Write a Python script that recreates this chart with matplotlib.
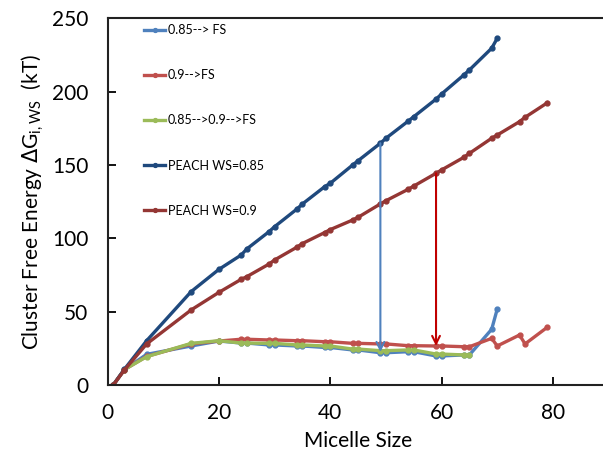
import matplotlib
matplotlib.use('Agg')
import matplotlib.pyplot as plt

plt.rcParams['font.family'] = ['Lato', 'DejaVu Sans']

# PEACH reference curves
peach_x = [1, 3, 7, 15, 20, 24, 25, 29, 30, 34, 35, 39, 40, 44, 45, 49, 50,
           54, 55, 59, 60, 64, 65, 69, 70]
peach085 = [0, 10.7, 30.2, 63.7, 78.9, 88.7, 92.8, 104.6, 108, 120, 123.5,
            135.3, 137.6, 150, 153, 164.9, 168.3, 180, 183, 195, 198.5,
            211.5, 214.9, 229.7, 236.5]

peach09_x = peach_x + [74, 75, 79]
peach09 = [0, 10.2, 28, 51.2, 63.2, 72.1, 73.9, 82.5, 85.3, 94, 96.5, 104,
           106, 112.5, 114.4, 123.5, 125.7, 133.5, 135.7, 144.4, 146.7,
           155.3, 158, 168.3, 170.5, 179.6, 182.6, 192.5]

# free surfactant runs
fs085_x = peach_x
fs085 = [0, 10.5, 20.9, 26.6, 30, 28.6, 28.6, 27.3, 27.3, 26.6, 26.6, 25.6,
         25.6, 23.9, 23.9, 22, 22, 22.7, 22.7, 19.8, 19.8, 20.5, 20.5, 38, 51.8]

fs09_x = peach09_x
fs09 = [0, 10.5, 19.5, 28, 30, 31.2, 31.2, 30.7, 30.7, 30.2, 30.2, 29.5, 29.5,
        28.4, 28.4, 28, 28, 26.8, 26.8, 26.6, 26.6, 26.1, 26.1, 31.8, 26.6,
        34.1, 28, 39.4]

fs_mix_x = peach_x[:23]
fs_mix = [0, 10.5, 19.3, 28.4, 30.2, 28.6, 28.6, 28.4, 28.4, 27.3, 27.3,
          26.6, 26.6, 24.5, 24.5, 23.4, 23.4, 23.9, 23.9, 21.1, 21.1, 20.5, 20.5]

# arrows: jump from PEACH curve down to FS curve
arrow_x = [49, 59]
arrow_top = [164.9, 144.4]
arrow_bottom = [22.5, 26.6]

fig = plt.figure(figsize=(6.03, 4.61), dpi=100)
ax = fig.add_axes([0.1786, 0.1649, 0.8306, 0.795])

lw = 2.4
ms = 3.5
ax.plot(fs085_x, fs085, '-o', color='#4F81BD', lw=lw, ms=ms, label='0.85--> FS')
ax.plot(fs09_x, fs09, '-o', color='#C0504D', lw=lw, ms=ms, label='0.9-->FS')
ax.plot(fs_mix_x, fs_mix, '-o', color='#9BBB59', lw=lw, ms=ms,
        label='0.85-->0.9-->FS')
ax.plot(peach_x, peach085, '-o', color='#1F497D', lw=lw, ms=ms,
        label='PEACH WS=0.85')
ax.plot(peach09_x, peach09, '-o', color='#943634', lw=lw, ms=ms,
        label='PEACH WS=0.9')

for x, y0, y1, c in zip(arrow_x, arrow_top, arrow_bottom, ['#4F81BD', '#C00000']):
    ax.annotate('', xy=(x, y1), xytext=(x, y0),
                arrowprops=dict(arrowstyle='->', color=c, lw=1.5,
                                mutation_scale=14, shrinkA=0, shrinkB=0))

ax.set_xlim(0, 90)
ax.set_ylim(0, 250)
ax.set_xticks([0, 20, 40, 60, 80])
ax.set_yticks([0, 50, 100, 150, 200, 250])
ax.tick_params(direction='in', length=6, width=1.3, labelsize=15)
ax.tick_params(axis='x', pad=13)
ax.tick_params(axis='y', pad=14)
for s in ax.spines.values():
    s.set_linewidth(1.5)
    s.set_color('#222222')

ax.set_xlabel('Micelle Size', fontsize=15, labelpad=6)
ax.set_ylabel(r'Cluster Free Energy $\Delta$G$_{\mathregular{i,WS}}$  (kT)',
              fontsize=15, labelpad=4)

ax.legend(loc='upper left', bbox_to_anchor=(0.05, 1.015), frameon=False,
          fontsize=9, handlelength=1.7, handletextpad=0.2, labelspacing=2.65,
          markerscale=0.8)

fig.savefig('out.png', dpi=100)
